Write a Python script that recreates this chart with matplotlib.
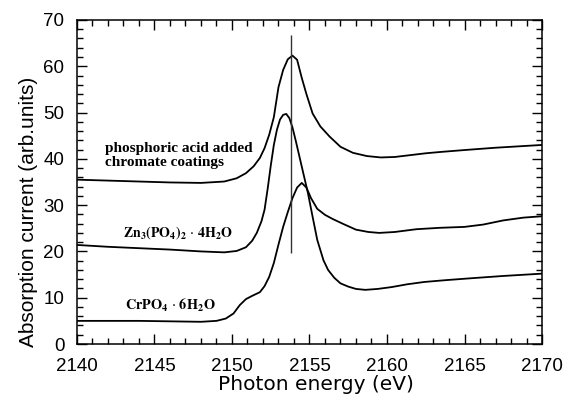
import matplotlib.pyplot as plt
from matplotlib.ticker import MultipleLocator

# curve: phosphoric acid added chromate coatings
energy_coating = [2140, 2142, 2144, 2146, 2148, 2149.5, 2150.3, 2150.9, 2151.4, 2151.8,
                  2152.1, 2152.4, 2152.7, 2153.0, 2153.3, 2153.6, 2153.9, 2154.2, 2154.5,
                  2154.8, 2155.2, 2155.7, 2156.3, 2157.0, 2157.8, 2158.7, 2159.6, 2160.5,
                  2161.5, 2162.5, 2163.5, 2165, 2167, 2168.5, 2170]
current_coating = [35.5, 35.3, 35.1, 34.9, 34.8, 35.1, 35.8, 36.9, 38.4, 40.2,
                   42.3, 45.2, 49.0, 55.5, 59.2, 61.5, 62.3, 61.4, 57.5,
                   54.0, 49.8, 47.0, 44.8, 42.6, 41.3, 40.6, 40.3, 40.4,
                   40.8, 41.2, 41.5, 41.9, 42.4, 42.7, 43.0]

# Zn3(PO4)2.4H2O
energy_zn = [2140, 2142, 2144, 2146, 2148, 2149.5, 2150.3, 2150.9, 2151.3, 2151.6,
             2151.9, 2152.1, 2152.3, 2152.5, 2152.7, 2152.9, 2153.1, 2153.3, 2153.5,
             2153.7, 2153.9, 2154.1, 2154.35, 2154.6, 2154.9, 2155.2, 2155.5, 2155.9,
             2156.2, 2156.6, 2157.0, 2157.5, 2158.0, 2158.6, 2159.4, 2160.3, 2161.3,
             2162.4, 2163.8, 2165.4, 2167.5, 2170]
current_zn = [21.4, 21.0, 20.7, 20.4, 20.0, 19.8, 20.1, 20.9, 22.3, 24.0,
              26.5, 29.0, 33.5, 38.5, 43.0, 46.3, 48.5, 49.5, 49.7,
              48.8, 46.8, 44.1, 40.5, 36.9, 32.6, 27.5, 22.5, 18.1,
              16.0, 14.3, 13.1, 12.4, 11.9, 11.7, 11.9, 12.3, 12.9,
              13.4, 13.8, 14.2, 14.7, 15.2]

# CrPO4.6H2O
energy_cr = [2140, 2142, 2144, 2146, 2148, 2149.0, 2149.6, 2150.1, 2150.5, 2150.9,
             2151.3, 2151.8, 2152.1, 2152.4, 2152.7, 2153.0, 2153.3, 2153.6, 2153.9,
             2154.2, 2154.5, 2154.8, 2155.1, 2155.5, 2156.0, 2156.5, 2157.2, 2158.0,
             2158.8, 2159.5, 2160.5, 2161.9, 2163.4, 2165.0, 2166.2, 2167.5, 2168.8, 2170]
current_cr = [5.0, 5.0, 5.0, 4.9, 4.8, 5.0, 5.5, 6.6, 8.4, 9.7,
              10.4, 11.2, 12.5, 14.5, 17.5, 21.5, 25.3, 28.5, 31.5,
              33.8, 34.8, 33.8, 31.5, 29.2, 27.9, 27.0, 25.9, 24.7,
              24.2, 24.0, 24.2, 24.8, 25.1, 25.3, 25.8, 26.7, 27.3, 27.6]

# vertical marker line
marker_energy = 2153.8
marker_from = 19.6
marker_to = 66.7

labels = ["phosphoric acid added\nchromate coatings",
          r"$\mathbf{Zn_3(PO_4)_2}\,\cdot\,\mathbf{4H_2O}$",
          r"$\mathbf{CrPO_4}\,\cdot\,\mathbf{6H_2O}$"]
label_x = [2141.8, 2143.0, 2143.1]
label_y = [40.8, 24.0, 8.4]

plt.rcParams['font.family'] = ['Liberation Sans', 'DejaVu Sans']
plt.rcParams['mathtext.fontset'] = 'stix'


def draw():
    fig = plt.figure(figsize=(5.64, 3.99), dpi=100)
    ax = fig.add_axes([0.1365, 0.1378, 0.8245, 0.8122])

    for x, y in [(energy_coating, current_coating), (energy_zn, current_zn), (energy_cr, current_cr)]:
        ax.plot(x, y, color='black', lw=1.3)
    ax.vlines(marker_energy, marker_from, marker_to, color='#333333', lw=1.0)

    ax.text(label_x[0], label_y[0], labels[0], family='Liberation Serif', weight='bold',
            fontsize=11, va='center', ha='left', linespacing=1.1)
    ax.text(label_x[1], label_y[1], labels[1], fontsize=10, va='center', ha='left')
    ax.text(label_x[2], label_y[2], labels[2], fontsize=10.3, va='center', ha='left')

    ax.set_xlim(2140, 2170)
    ax.set_ylim(0, 70)
    ax.xaxis.set_major_locator(MultipleLocator(5))
    ax.xaxis.set_minor_locator(MultipleLocator(1))
    ax.yaxis.set_major_locator(MultipleLocator(10))
    ax.yaxis.set_minor_locator(MultipleLocator(2))
    ax.tick_params(which='both', direction='in', top=True, right=True, labelsize=13.5, width=1)
    ax.tick_params(which='major', length=7)
    ax.tick_params(which='minor', length=4)
    ax.tick_params(axis='x', which='major', pad=10)
    ax.tick_params(axis='y', which='major', pad=9)
    for s in ax.spines.values():
        s.set_linewidth(1.1)

    # wider face for the x title, like the original
    ax.set_xlabel('Photon energy (eV)', fontsize=14.5, family='DejaVu Sans')
    ax.xaxis.set_label_coords(0.514, -0.097)
    ax.set_ylabel('Absorption current (arb.units)', fontsize=15)
    ax.yaxis.set_label_coords(-0.084, 0.407)

    fig.savefig('out.png', dpi=100)


if __name__ == "__main__":
    draw()
